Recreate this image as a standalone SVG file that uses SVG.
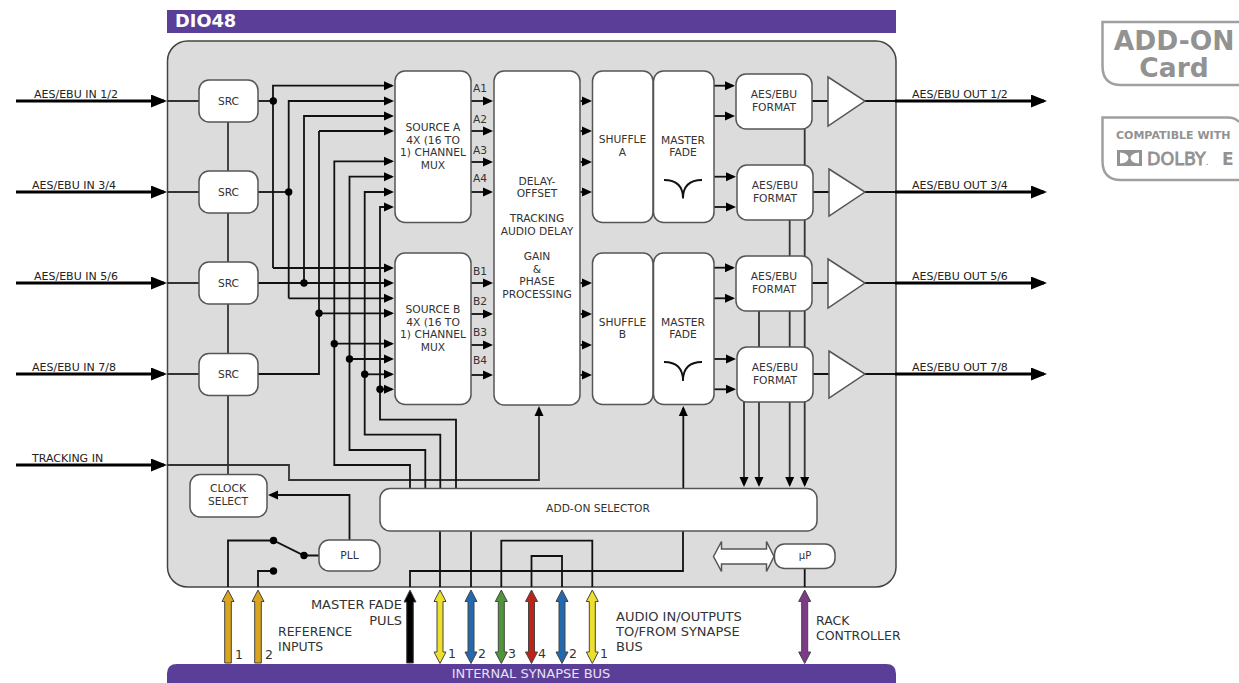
<svg xmlns="http://www.w3.org/2000/svg" width="1239" height="683" viewBox="0 0 1239 683">
<style>
text{font-family:"DejaVu Sans","Liberation Sans",sans-serif;font-size:10.7px;fill:#333}
.c{text-anchor:middle}
.lb{font-size:12.5px;fill:#333}
.lw{font-size:13px;fill:#333}
.io{font-size:11px;fill:#222}
.n{fill:#fff;stroke:#555;stroke-width:1.5}
.w{fill:none;stroke:#111;stroke-width:1.8}
.g{fill:none;stroke:#333;stroke-width:1.8}
.t{fill:none;stroke:#000;stroke-width:3}
.a{marker-end:url(#ah)}
.ta{marker-end:url(#tah)}
.dot{fill:#000}
.b{stroke:#444;stroke-width:1}
.badge{fill:none;stroke:#a0a0a0;stroke-width:2.5}
.bt{fill:#929292;font-weight:bold}
</style>
<defs>
<marker id="ah" markerUnits="userSpaceOnUse" markerWidth="12" markerHeight="12" refX="8" refY="5" orient="auto"><path d="M0 0.500L10 5L0 9.500Z" fill="#000"/></marker>
<marker id="tah" markerUnits="userSpaceOnUse" markerWidth="18" markerHeight="14" refX="13" refY="6.500" orient="auto"><path d="M0 0L16 6.500L0 13Z" fill="#000"/></marker>
<path id="up" d="M0 0L6 11.500H3.300V73H-3.300V11.500H-6Z"/>
<path id="dbl" d="M0 0L6 11.500H3V62H6L0 73.500L-6 62H-3V11.500H-6Z"/>
</defs>

<rect id="panel" x="167.500" y="41" width="728.500" height="546" rx="20" fill="#dcdcdc" stroke="#444" stroke-width="1.500"/>
<g id="title"><rect x="167" y="10" width="729" height="23" fill="#5b3e98"/><text x="175" y="27" style="font-size:17.800px;font-weight:bold;fill:#fff">DIO48</text></g>
<g id="bus"><path d="M177 664H886Q896 664 896 673.500V683H167V673.500Q167 664 177 664Z" fill="#5b3e98"/><text class="c" x="531" y="678" style="font-size:13px;fill:#e6e0f2">INTERNAL SYNAPSE BUS</text></g>

<g id="connectors">
<path class="g" d="M228 122V474"/>
<path class="t ta" d="M16 101H164"/><path class="t ta" d="M16 192H164"/><path class="t ta" d="M16 283H164"/><path class="t ta" d="M16 374H164"/><path class="t ta" d="M16 465H164"/>
<path class="g" d="M167 101H199M167 192H199M167 283H199M167 374H199"/>
<path class="g a" d="M167 465H289V480H539V408"/>
<path class="w" d="M258 101H273"/><path class="w" d="M258 192H288.700"/><path class="w" d="M258 283H304"/><path class="w" d="M258 374H319V131"/>
<path class="w a" d="M273 268V85.700H392"/>
<path class="w a" d="M273 268H392"/>
<path class="w a" d="M288.700 298.300V101H392"/>
<path class="w a" d="M288.700 298.300H392"/>
<path class="w a" d="M304 283V116H392"/>
<path class="w a" d="M304 283H392"/>
<path class="w a" d="M319 131H392"/>
<path class="w a" d="M319 313.300H392"/>
<path class="w a" d="M410 488V465H334.300V161.300H392"/>
<path class="w a" d="M425.300 488V450H349.500V176.700H392"/>
<path class="w a" d="M440.300 488V434.700H364.700V192H392"/>
<path class="w a" d="M456 488V419.700H380V207H392"/>
<path class="w a" d="M334.300 343.700H392"/>
<path class="w a" d="M349.500 359H392"/>
<path class="w a" d="M364.700 374.300H392"/>
<path class="w a" d="M380 389.300H392"/>
<circle class="dot" cx="273.300" cy="101" r="3.700"/><circle class="dot" cx="288.700" cy="192" r="3.700"/><circle class="dot" cx="304" cy="283" r="3.700"/><circle class="dot" cx="319" cy="313.300" r="3.700"/><circle class="dot" cx="334.300" cy="343.700" r="3.700"/><circle class="dot" cx="349.500" cy="359" r="3.700"/><circle class="dot" cx="364.700" cy="374.300" r="3.700"/><circle class="dot" cx="380" cy="389.300" r="3.700"/>
<path class="w a" d="M471 101H491"/><path class="w a" d="M471 131H491"/><path class="w a" d="M471 162H491"/><path class="w a" d="M471 192H491"/>
<path class="w a" d="M471 283H491"/><path class="w a" d="M471 314H491"/><path class="w a" d="M471 345H491"/><path class="w a" d="M471 375H491"/>
<path class="w a" d="M580 101H590"/><path class="w a" d="M580 131H590"/><path class="w a" d="M580 162H590"/><path class="w a" d="M580 192H590"/>
<path class="w a" d="M580 283H590"/><path class="w a" d="M580 314H590"/><path class="w a" d="M580 345H590"/><path class="w a" d="M580 375H590"/>
<path class="w a" d="M714 85.700H733"/><path class="w a" d="M714 116H733"/><path class="w a" d="M714 176.700H734"/><path class="w a" d="M714 207H734"/>
<path class="w a" d="M714 267.700H733"/><path class="w a" d="M714 298.300H733"/><path class="w a" d="M714 359H734"/><path class="w a" d="M714 389.300H734"/>
<path class="g a" d="M804.700 129V485"/><path class="g a" d="M789.700 220V485"/><path class="g a" d="M759 311V485"/><path class="g a" d="M744 402V485"/>
<path class="w a" d="M683.300 488V408"/>
<path class="w" d="M812 101H828M813 192H829M812 283H828M813 374H829"/>
<path class="w" d="M865 101H896M865 192H896M865 283H896M865 374H896"/>
<path class="t ta" d="M895 101H1044"/><path class="t ta" d="M895 192H1044"/><path class="t ta" d="M895 283H1044"/><path class="t ta" d="M895 374H1044"/>
<path class="w a" d="M349.500 540V495H270"/>
<path class="w" d="M228 587V540.500H273.500L304 555.500H319"/>
<path class="w" d="M258 587V571H273.500"/>
<circle class="dot" cx="273.500" cy="540.500" r="3.700"/><circle class="dot" cx="304" cy="555.500" r="3.700"/><circle class="dot" cx="273.500" cy="571" r="3.700"/>
<path class="w" d="M410 587V571H683V531"/>
<path class="w" d="M440 531V587M471 531V587"/>
<path class="w" d="M501.300 587V540.700H592.300V587"/>
<path class="w" d="M531.500 587V556H562V587"/>
<path class="w" d="M804.700 568V587"/>
<g class="b">
<use href="#up" x="228" y="590" fill="#d9a41f"/>
<use href="#up" x="258" y="590" fill="#d9a41f"/>
<path d="M410 590L416 602H413.300V663H406.700V602H404Z" fill="#000"/>
<use href="#dbl" x="440" y="590" fill="#ecdf2e"/>
<use href="#dbl" x="471" y="590" fill="#2468ae"/>
<use href="#dbl" x="501.300" y="590" fill="#4f9638"/>
<use href="#dbl" x="531.500" y="590" fill="#bd2318"/>
<use href="#dbl" x="562" y="590" fill="#2468ae"/>
<use href="#dbl" x="592.300" y="590" fill="#ecdf2e"/>
<use href="#dbl" x="804.700" y="590" fill="#7d3b87"/>
</g>
</g>

<g id="src1"><rect class="n" x="199" y="80" width="59" height="42" rx="10"/><text class="c" x="228.500" y="105">SRC</text></g>
<g id="src2"><rect class="n" x="199" y="171" width="59" height="42" rx="10"/><text class="c" x="228.500" y="196">SRC</text></g>
<g id="src3"><rect class="n" x="199" y="262" width="59" height="42" rx="10"/><text class="c" x="228.500" y="287">SRC</text></g>
<g id="src4"><rect class="n" x="199" y="353.500" width="59" height="42" rx="10"/><text class="c" x="228.500" y="378">SRC</text></g>
<g id="source-a"><rect class="n" x="395" y="71" width="76" height="151.500" rx="10"/><text class="c" x="433" y="131">SOURCE A</text><text class="c" x="433" y="144">4X (16 TO</text><text class="c" x="433" y="156">1) CHANNEL</text><text class="c" x="433" y="169">MUX</text></g>
<g id="source-b"><rect class="n" x="395" y="253" width="76" height="151.500" rx="10"/><text class="c" x="433" y="313">SOURCE B</text><text class="c" x="433" y="326">4X (16 TO</text><text class="c" x="433" y="338">1) CHANNEL</text><text class="c" x="433" y="351">MUX</text></g>
<g id="mux-labels"><text x="473" y="92">A1</text><text x="473" y="123">A2</text><text x="473" y="154">A3</text><text x="473" y="182">A4</text><text x="473" y="275">B1</text><text x="473" y="305">B2</text><text x="473" y="336">B3</text><text x="473" y="364">B4</text></g>
<g id="delay"><rect class="n" x="494" y="71" width="86" height="334" rx="10"/>
<text class="c" x="537" y="185">DELAY-</text><text class="c" x="537" y="197">OFFSET</text><text class="c" x="537" y="222">TRACKING</text><text class="c" x="537" y="235">AUDIO DELAY</text><text class="c" x="537" y="260">GAIN</text><text class="c" x="537" y="273">&amp;</text><text class="c" x="537" y="285">PHASE</text><text class="c" x="537" y="298">PROCESSING</text></g>
<g id="shuffle-a"><rect class="n" x="592.500" y="71" width="60.500" height="151.500" rx="10"/><text class="c" x="622.500" y="143">SHUFFLE</text><text class="c" x="622.500" y="156">A</text></g>
<g id="shuffle-b"><rect class="n" x="592.500" y="253" width="60.500" height="151.500" rx="10"/><text class="c" x="622.500" y="326">SHUFFLE</text><text class="c" x="622.500" y="338">B</text></g>
<g id="master-a"><rect class="n" x="653.500" y="71" width="60.500" height="151.500" rx="10"/><text class="c" x="683" y="144">MASTER</text><text class="c" x="683" y="156">FADE</text><path class="w" d="M664 180Q683 180 683 198.500Q683 180 702 180"/></g>
<g id="master-b"><rect class="n" x="653.500" y="253" width="60.500" height="151.500" rx="10"/><text class="c" x="683" y="326">MASTER</text><text class="c" x="683" y="338">FADE</text><path class="w" d="M664 362Q683 362 683 381Q683 362 702 362"/></g>
<g id="format1"><rect class="n" x="736" y="74" width="76" height="55" rx="10"/><text class="c" x="774" y="98">AES/EBU</text><text class="c" x="774" y="111">FORMAT</text></g>
<g id="format2"><rect class="n" x="737" y="165" width="76" height="55" rx="10"/><text class="c" x="775" y="189">AES/EBU</text><text class="c" x="775" y="202">FORMAT</text></g>
<g id="format3"><rect class="n" x="736" y="256" width="76" height="55" rx="10"/><text class="c" x="774" y="280">AES/EBU</text><text class="c" x="774" y="293">FORMAT</text></g>
<g id="format4"><rect class="n" x="737" y="347" width="76" height="55" rx="10"/><text class="c" x="775" y="371">AES/EBU</text><text class="c" x="775" y="384">FORMAT</text></g>
<g id="amp1"><path class="n" d="M828 77L865 101L828 126Z"/></g>
<g id="amp2"><path class="n" d="M829 169L865 192L829 216Z"/></g>
<g id="amp3"><path class="n" d="M828 259L865 283L828 308Z"/></g>
<g id="amp4"><path class="n" d="M829 351L865 374L829 398Z"/></g>
<g id="clock-select"><rect class="n" x="190" y="474.500" width="77" height="42.500" rx="10"/><text class="c" x="228" y="492">CLOCK</text><text class="c" x="228" y="505">SELECT</text></g>
<g id="pll"><rect class="n" x="319" y="540" width="61" height="31" rx="10"/><text class="c" x="349.500" y="559">PLL</text></g>
<g id="selector"><rect class="n" x="380" y="488.500" width="437" height="42.500" rx="10"/><text class="c" x="598" y="512">ADD-ON SELECTOR</text></g>
<g id="up-node"><rect class="n" x="774.500" y="544" width="60.500" height="24.500" rx="10"/><text class="c" x="805" y="559" style="font-size:10px">µP</text></g>
<g id="hollow-arrow"><path class="n" d="M713.500 556.500L721.500 541.500V549H766.500V541.500L774 556.500L766.500 571.500V564H721.500V571.500Z"/></g>

<g id="labels">
<text x="34" y="98" class="io">AES/EBU IN 1/2</text><text x="32" y="189" class="io">AES/EBU IN 3/4</text><text x="34" y="280" class="io">AES/EBU IN 5/6</text><text x="32" y="371" class="io">AES/EBU IN 7/8</text><text x="32" y="462" class="io">TRACKING IN</text>
<text x="912" y="98" class="io">AES/EBU OUT 1/2</text><text x="912" y="189" class="io">AES/EBU OUT 3/4</text><text x="912" y="280" class="io">AES/EBU OUT 5/6</text><text x="912" y="371" class="io">AES/EBU OUT 7/8</text>
<text x="235" y="659" class="lb">1</text><text x="265" y="659" class="lb">2</text>
<text x="278" y="636" class="lb">REFERENCE</text><text x="278" y="651" class="lb">INPUTS</text>
<text x="402" y="609" class="lw" text-anchor="end">MASTER FADE</text><text x="402" y="625" class="lw" text-anchor="end">PULS</text>
<text x="448" y="658" class="lb">1</text><text x="478" y="658" class="lb">2</text><text x="508" y="658" class="lb">3</text><text x="538" y="658" class="lb">4</text><text x="569" y="658" class="lb">2</text><text x="600" y="658" class="lb">1</text>
<text x="616" y="621" class="lw">AUDIO IN/OUTPUTS</text><text x="616" y="636" class="lw">TO/FROM SYNAPSE</text><text x="616" y="651" class="lw">BUS</text>
<text x="816" y="625" class="lb">RACK</text><text x="816" y="640" class="lb">CONTROLLER</text>
</g>

<g id="badge-addon"><path class="badge" d="M1239 22H1102.500V66Q1102.500 85 1121 85H1239"/><text class="bt c" x="1174" y="50" style="font-size:26.500px">ADD-ON</text><text class="bt c" x="1174" y="77" style="font-size:26.500px">Card</text></g>
<g id="badge-dolby"><path class="badge" d="M1239 122Q1235 117.500 1228 117.500H1102.500V161Q1102.500 180 1121 180H1239"/><text class="bt" x="1116" y="139" style="font-size:11px">COMPATIBLE WITH</text>
<path fill="#929292" fill-rule="evenodd" d="M1117 150H1142V166H1117ZM1120 152.500V163.500Q1128 163 1128.500 158Q1128 153 1120 152.500ZM1139 152.500Q1131 153 1130.500 158Q1131 163 1139 163.500Z"/>
<text class="bt" x="1147" y="165" style="font-size:17.500px;font-weight:normal;stroke:#929292;stroke-width:.8">DOLBY</text><text class="bt" x="1206" y="165" style="font-size:6px">.</text><text class="bt" x="1222" y="165" style="font-size:17px">E</text></g>
</svg>
